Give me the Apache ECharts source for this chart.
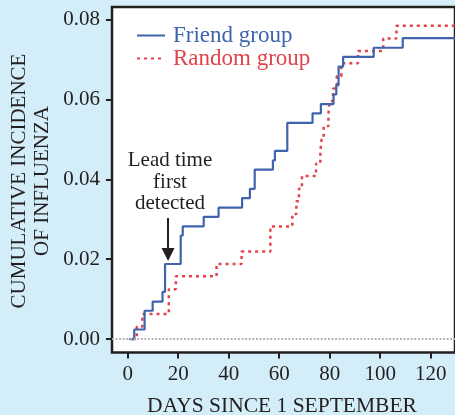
<!DOCTYPE html>
<html>
<head>
<meta charset="utf-8">
<script src="https://cdn.jsdelivr.net/npm/echarts@6/dist/echarts.min.js"></script>
<style>
  html, body { margin: 0; padding: 0; background: #d4eef9; }
  #chart { width: 455px; height: 415px; }
</style>
</head>
<body>
<div id="chart"></div>
<script>
// step points: [day, cumulative incidence after the step]
var friendDays = [0.6, 2.6, 6.7, 9.9, 13.8, 14.8, 21.0, 21.8, 30.1, 36.0, 45.3, 48.4, 50.3, 57.5, 58.3, 63.2, 73.2, 76.5, 81.5, 82.6, 83.5, 85.3, 97.4, 108.9, 130];
var friendVals = [0, 0.0024, 0.0071, 0.0094, 0.0118, 0.0188, 0.0259, 0.0282, 0.0306, 0.0329, 0.0353, 0.0376, 0.0424, 0.0447, 0.0471, 0.0541, 0.0565, 0.0588, 0.0612, 0.0635, 0.0682, 0.0706, 0.0729, 0.0753, 0.0753];
var randomDays = [2.0, 3.6, 5.8, 16.3, 19.1, 35.2, 45.1, 56.5, 65.2, 66.8, 67.8, 69.0, 74.6, 76.3, 76.8, 77.6, 79.5, 80.0, 81.3, 82.8, 84.6, 91.2, 101.2, 106.4, 130];
var randomVals = [0, 0.0031, 0.0063, 0.0125, 0.0157, 0.0188, 0.0219, 0.0282, 0.0313, 0.0345, 0.0376, 0.0408, 0.0439, 0.0470, 0.0502, 0.0533, 0.0564, 0.0596, 0.0627, 0.0658, 0.0690, 0.0721, 0.0752, 0.0784, 0.0784];
var xTicks = [0, 20, 40, 60, 80, 100, 120];
var yTicks = [0, 0.02, 0.04, 0.06, 0.08];
var seriesNames = ['Friend group', 'Random group'];

var FONT = 'Liberation Serif';
var INK = '#231f20';
var BLUE = '#3f64ad';
var RED = '#e2434b';

function pairs(xs, ys) {
    return xs.map(function (x, i) { return [x, ys[i]]; });
}

var chart = echarts.init(document.getElementById('chart'));

var option = {
    animation: false,
    backgroundColor: '#d4eef9',
    grid: {
        left: 112, right: -8, top: 7, bottom: 62.5,
        show: true, backgroundColor: '#fff',
        borderColor: INK, borderWidth: 2.5
    },
    legend: {
        orient: 'vertical',
        left: 131, top: 19,
        itemWidth: 28, itemHeight: 12, itemGap: 0,
        itemStyle: { opacity: 0 },
        data: [
            { name: seriesNames[0], textStyle: { color: BLUE } },
            { name: seriesNames[1], textStyle: { color: RED } }
        ],
        textStyle: { fontFamily: FONT, fontSize: 23, lineHeight: 20, padding: [0, 0, 0, 3] }
    },
    xAxis: {
        type: 'value', min: -6.2, max: 129.6,
        splitLine: { show: false },
        axisLine: { show: false, onZero: false },
        axisTick: { customValues: xTicks, length: 6, lineStyle: { color: INK, width: 2 } },
        axisLabel: { customValues: xTicks, margin: 11, color: INK, fontFamily: FONT, fontSize: 21 }
    },
    yAxis: {
        type: 'value', min: -0.00335, max: 0.0831,
        splitLine: { show: false },
        axisLine: { show: false, onZero: false },
        axisTick: { customValues: yTicks, length: 6, lineStyle: { color: INK, width: 2 } },
        axisLabel: {
            customValues: yTicks, margin: 12, color: INK, fontFamily: FONT, fontSize: 21,
            formatter: function (v) { return v.toFixed(2); }
        }
    },
    graphic: [
        {
            type: 'text', x: 31, y: 181, rotation: Math.PI / 2,
            style: {
                text: 'CUMULATIVE INCIDENCE\nOF INFLUENZA',
                font: '21px "Liberation Serif"', fill: INK,
                align: 'center', verticalAlign: 'middle', lineHeight: 23
            }
        },
        {
            type: 'text', x: 282, y: 406,
            style: {
                text: 'DAYS SINCE 1 SEPTEMBER',
                font: '21.5px "Liberation Serif"', fill: INK,
                align: 'center', verticalAlign: 'middle'
            }
        },
        {
            type: 'text', x: 170, y: 182,
            style: {
                text: 'Lead time\nfirst\ndetected',
                font: '21px "Liberation Serif"', fill: INK,
                align: 'center', verticalAlign: 'middle', lineHeight: 21.5
            }
        }
    ],
    series: [
        {
            name: seriesNames[1],
            type: 'line', step: 'end', symbol: 'none',
            data: pairs(randomDays, randomVals),
            lineStyle: { color: RED, width: 2.5, type: [3, 4] },
            itemStyle: { color: RED },
            markLine: {
                silent: true, symbol: 'none', label: { show: false },
                lineStyle: { color: '#b0b0b0', width: 1.8, type: 'dotted' },
                data: [{ yAxis: 0 }]
            },
            z: 2
        },
        {
            name: seriesNames[0],
            type: 'line', step: 'end', symbol: 'none',
            data: pairs(friendDays, friendVals),
            lineStyle: { color: BLUE, width: 2.2 },
            itemStyle: { color: BLUE },
            markLine: {
                silent: true, symbol: ['none', 'triangle'], symbolSize: 13,
                label: { show: false },
                lineStyle: { color: INK, width: 2, type: 'solid' },
                data: [[{ coord: [16, 0.0303] }, { coord: [16, 0.0212] }]]
            },
            z: 3
        }
    ]
};

chart.setOption(option);
</script>
</body>
</html>
